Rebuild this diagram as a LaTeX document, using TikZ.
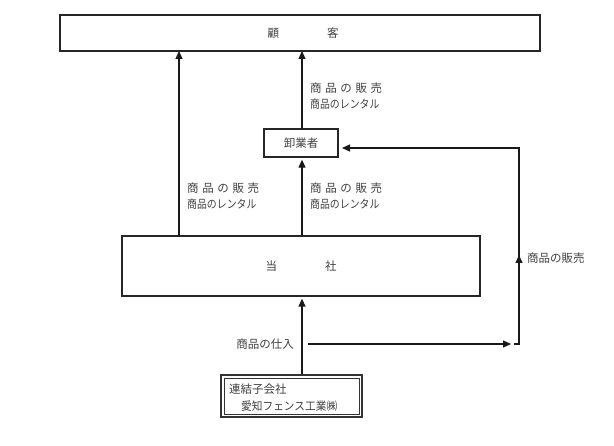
\documentclass[tikz,border=0pt]{standalone}
\usepackage{fontspec}
\newfontfamily\jp{Noto Sans CJK JP}
\usetikzlibrary{arrows.meta}
\newcommand{\spr}{\makebox[72pt][s]{商\hfill 品\hfill の\hfill 販\hfill 売}}
\newcommand{\rent}{\scalebox{0.86}[1]{商品のレンタル}}
\begin{document}
\begin{tikzpicture}[x=1pt,y=-1pt,
  font=\jp\fontsize{11.5pt}{13pt}\selectfont,
  box/.style={draw=black!85, line width=1.3pt, inner sep=0pt},
  lab/.style={text=black!75, anchor=west, inner sep=0pt},
  ln/.style={draw=black!90, line width=1.2pt},
  arr/.style={ln, -{Triangle[length=8pt,width=7pt]}}]
\useasboundingbox (0,0) rectangle (614,446);
\fill[white] (0,0) rectangle (614,446);
% boxes
\node[box, minimum width=480pt, minimum height=36pt] (cust) at (300,33) {};
\node[lab, anchor=center] (custt) at (303,33) {顧\hspace{48pt}客};
\node[box, minimum width=74pt, minimum height=28pt, text=black!75] (ws) at (301,143) {卸業者};
\node[box, minimum width=358pt, minimum height=60pt] (co) at (301,266) {};
\node[lab, anchor=center] (cot) at (co.center) {当\hspace{48pt}社};
\node[draw=black!80, line width=1.6pt, minimum width=141pt, minimum height=42pt, inner sep=0pt] (sub) at (291.5,396) {};
\node[draw=black!80, line width=0.6pt, minimum width=135pt, minimum height=36pt, inner sep=0pt] (subi) at (sub.center) {};
\node[lab] (subt1) at (229,389) {連結子会社};
\node[lab] (subt2) at (241,406) {\scalebox{0.93}[1]{愛知フェンス工業㈱}};
% coordinates
\coordinate (l0) at (179,236);
\coordinate (l1) at (179,51);
\coordinate (m0) at (302,129);
\coordinate (m1) at (302,51);
\coordinate (h0) at (308,344);
\coordinate (h1) at (511,344);
\coordinate (d0) at (514,344);
\coordinate (rc) at (519,344);
\coordinate (rm) at (519,255);
\coordinate (rm2) at (519,258);
\coordinate (rt) at (519,148);
\coordinate (we) at (342,148);
% connectors
\draw[arr] (l0) -- (l1);
\draw[arr] (m0) -- (m1);
\draw[arr, shorten >=2pt] (co.north -| m0) -- (ws.south -| m0);
\draw[arr, shorten >=2pt] (sub.north -| m0) -- (co.south -| m0);
\draw[arr] (h0) -- (h1);
\draw[arr] (d0) -- (rc) -- (rm);
\draw[arr] (rm2) -- (rt) -- (we);
% labels
\node[lab] (t1) at (310,88) {\spr};
\node[lab] (t2) at (310,104) {\rent};
\node[lab] (a1) at (187,188) {\spr};
\node[lab] (a2) at (187,204) {\rent};
\node[lab] (b1) at (310,188) {\spr};
\node[lab] (b2) at (310,204) {\rent};
\node[lab] (r1) at (527,258) {商品の販売};
\node[lab, anchor=east] (p1) at (294,344) {商品の仕入};
\end{tikzpicture}
\end{document}
